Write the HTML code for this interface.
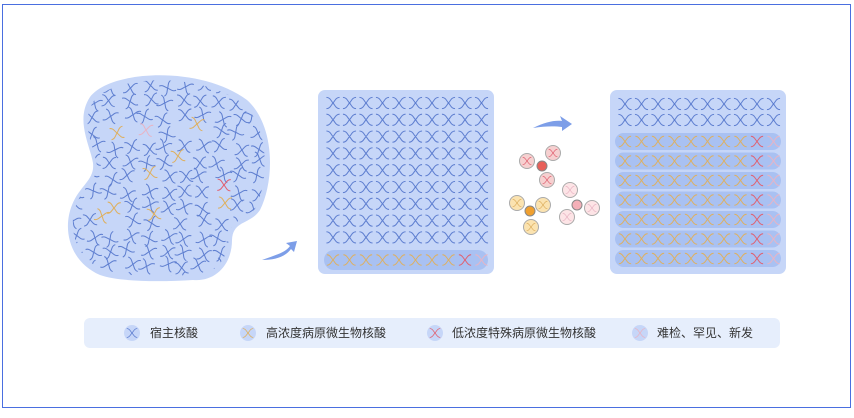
<!DOCTYPE html>
<html><head><meta charset="utf-8"><style>
html,body{margin:0;padding:0;background:#fff;}
body{width:854px;height:413px;overflow:hidden;position:relative;font-family:"Liberation Sans","Noto Sans CJK SC",sans-serif;}
</style></head><body>
<svg id="s" width="854" height="413" viewBox="0 0 854 413" xmlns="http://www.w3.org/2000/svg">
<defs>
<symbol id="xb" viewBox="-8 -8 16 16" overflow="visible">
<path d="M-7,-6 C-3,-6 -2,-2 0,0 C2,2 3,6 7,6 M-7,6 C-3,6 -2,2 0,0 C2,-2 3,-6 7,-6" fill="none" stroke="#5f7fd0" stroke-width="1.1"/>
</symbol>
<symbol id="xy" viewBox="-8 -8 16 16" overflow="visible">
<path d="M-7,-6 C-3,-6 -2,-2 0,0 C2,2 3,6 7,6 M-7,6 C-3,6 -2,2 0,0 C2,-2 3,-6 7,-6" fill="none" stroke="#deb060" stroke-width="1.1"/>
</symbol>
<symbol id="xr" viewBox="-8 -8 16 16" overflow="visible">
<path d="M-7,-6 C-3,-6 -2,-2 0,0 C2,2 3,6 7,6 M-7,6 C-3,6 -2,2 0,0 C2,-2 3,-6 7,-6" fill="none" stroke="#e06070" stroke-width="1.1"/>
</symbol>
<symbol id="xp" viewBox="-8 -8 16 16" overflow="visible">
<path d="M-7,-6 C-3,-6 -2,-2 0,0 C2,2 3,6 7,6 M-7,6 C-3,6 -2,2 0,0 C2,-2 3,-6 7,-6" fill="none" stroke="#e8b4c4" stroke-width="1.1"/>
</symbol>
<clipPath id="bc"><path d="M90,97 C110,70 200,65 247,100 C275,125 275,180 260,210 C250,225 233,220 232,240 C232,265 215,282 193,280 C160,282 120,282 100,275 C70,262 62,230 72,205 C80,185 95,180 93,163 C90,145 75,120 90,97 Z" transform="translate(166 176) scale(0.95) translate(-166 -176)"/></clipPath>
</defs>
<rect x="2.5" y="4.5" width="848" height="403" fill="none" stroke="#4a6fe0" stroke-width="1"/>
<path d="M90,97 C110,70 200,65 247,100 C275,125 275,180 260,210 C250,225 233,220 232,240 C232,265 215,282 193,280 C160,282 120,282 100,275 C70,262 62,230 72,205 C80,185 95,180 93,163 C90,145 75,120 90,97 Z" fill="#c6d6f8"/>
<g id="blob" clip-path="url(#bc)"></g>
<rect x="318" y="90" width="176" height="184" rx="7" fill="#c6d6f8"/>
<rect x="324" y="250" width="164" height="20" rx="10" fill="#a9c1f2"/>
<g id="mid"></g>
<rect x="610" y="90" width="176" height="184" rx="7" fill="#c6d6f8"/>
<g id="right"></g>
<path d="M262,260 C275,255 285,253 290,246 L286,243 L297,241 L294,252 L291,249 C285,257 275,260 262,260 Z" fill="#7d9ee8"/>
<path d="M533,128 C545,122 555,120 562,121 L560,116 L572,124 L562,131 L562,127 C555,126 545,126 533,128 Z" fill="#7d9ee8"/>
<g id="cl"></g>
<rect x="84" y="318" width="696" height="30" rx="6" fill="#e6eefc"/>
<g font-size="12" fill="#333">
<circle cx="132" cy="333" r="8" fill="#c6d6f8"/><use href="#xb" x="126" y="327" width="12" height="12"/>
<text x="150" y="337">宿主核酸</text>
<circle cx="248" cy="333" r="8" fill="#c6d6f8"/><use href="#xy" x="242" y="327" width="12" height="12"/>
<text x="266" y="337">高浓度病原微生物核酸</text>
<circle cx="435" cy="333" r="8" fill="#c6d6f8"/><use href="#xr" x="429" y="327" width="12" height="12"/>
<text x="452" y="337">低浓度特殊病原微生物核酸</text>
<circle cx="640" cy="333" r="8" fill="#c6d6f8"/><use href="#xp" x="634" y="327" width="12" height="12"/>
<text x="657" y="337">难检、罕见、新发</text>
</g>
</svg>
<script>
var NS="http://www.w3.org/2000/svg";
function u(g,id,x,y,s,rot){var e=document.createElementNS(NS,"use");e.setAttribute("href","#"+id);e.setAttribute("x",x-s/2);e.setAttribute("y",y-s/2);e.setAttribute("width",s);e.setAttribute("height",s);if(rot)e.setAttribute("transform","rotate("+rot+" "+x+" "+y+")");document.getElementById(g).appendChild(e);}
function c(g,x,y,r,f,st){var e=document.createElementNS(NS,"circle");e.setAttribute("cx",x);e.setAttribute("cy",y);e.setAttribute("r",r);e.setAttribute("fill",f);e.setAttribute("stroke",st);e.setAttribute("stroke-width","1");document.getElementById(g).appendChild(e);}
function rr(g,x,y,w,h,f){var e=document.createElementNS(NS,"rect");e.setAttribute("x",x);e.setAttribute("y",y);e.setAttribute("width",w);e.setAttribute("height",h);e.setAttribute("rx",h/2);e.setAttribute("fill",f);document.getElementById(g).appendChild(e);}
var seed=7;function R(){seed=(seed*16807)%2147483647;return seed/2147483647;}
var sp=[[117,133],[146,130],[197,124],[178,156],[150,173],[225,203],[224,185],[102,216],[114,208],[154,214]];
for(var y=84;y<282;y+=15){for(var x=72;x<275;x+=18){var px=x+R()*8,py=y+R()*6,ok=true;sp.forEach(function(a){if(Math.abs(a[0]-px)<10&&Math.abs(a[1]-py)<9)ok=false;});if(ok)u("blob","xb",px,py,15,(R()-0.5)*60);}}
var spc=["xy","xp","xy","xy","xy","xy","xr","xy","xy","xy"];
sp.forEach(function(a,i){u("blob",spc[i],a[0],a[1],15,(R()-0.5)*40);});
for(var r=0;r<9;r++)for(var i=0;i<10;i++)u("mid","xb",333+i*16.5,103+r*16.8,15);
for(var i=0;i<10;i++)u("mid",i==8?"xr":(i==9?"xp":"xy"),333+i*16.5,260,14);
for(var r=0;r<2;r++)for(var i=0;i<10;i++)u("right","xb",625+i*16.5,104+r*16,15);
for(var r=0;r<7;r++){var yy=133+r*19.5;rr("right",615,yy,166,17,"#a9c1f2");for(var i=0;i<10;i++)u("right",i==8?"xr":(i==9?"xp":"xy"),625+i*16.5,yy+8.5,14);}
function cl(cx,cy,cf,pf,pts,xid){pts.forEach(function(p){c("cl",p[0],p[1],7.5,pf,"#aaa");u("cl",xid,p[0],p[1],10);});c("cl",cx,cy,5,cf,"#888");}
cl(542,166,"#e8605a","#f6d0d0",[[527,161],[553,153],[547,180]],"xr");
cl(530,211,"#f0a030","#fbe3b0",[[517,203],[543,205],[531,227]],"xy");
cl(577,205,"#f4b0b8","#fde4e6",[[570,190],[592,208],[567,217]],"xp");
</script>
</body></html>
